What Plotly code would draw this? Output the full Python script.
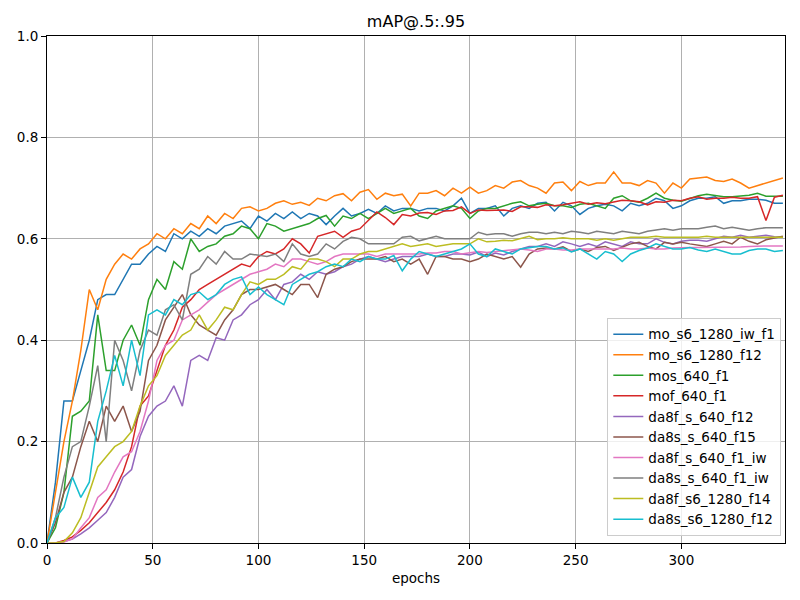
import plotly.graph_objects as go

epochs = list(range(0, 349, 4))

mo_s6_1280_iw_f1 = [0.0, 0.12, 0.28, 0.28, 0.34, 0.40, 0.48, 0.49, 0.49, 0.52, 0.55, 0.55, 0.57, 0.585, 0.575, 0.61,
    0.60, 0.615, 0.605, 0.62, 0.61, 0.625, 0.63, 0.635, 0.62, 0.645, 0.635, 0.65, 0.64, 0.653, 0.64, 0.65,
    0.645, 0.628, 0.645, 0.66, 0.645, 0.65, 0.658, 0.65, 0.665, 0.655, 0.66, 0.66, 0.655, 0.66, 0.66, 0.655,
    0.665, 0.68, 0.65, 0.66, 0.66, 0.665, 0.645, 0.66, 0.665, 0.66, 0.67, 0.672, 0.655, 0.672, 0.665, 0.648,
    0.66, 0.665, 0.668, 0.665, 0.655, 0.67, 0.665, 0.67, 0.68, 0.675, 0.66, 0.665, 0.675, 0.68, 0.68, 0.683,
    0.67, 0.675, 0.675, 0.678, 0.678, 0.676, 0.67, 0.67]

mo_s6_1280_f12 = [0.0, 0.10, 0.20, 0.28, 0.38, 0.50, 0.46, 0.52, 0.55, 0.57, 0.56, 0.58, 0.59, 0.61, 0.60, 0.62,
    0.61, 0.63, 0.62, 0.645, 0.63, 0.65, 0.64, 0.66, 0.663, 0.655, 0.66, 0.67, 0.675, 0.668, 0.672, 0.666,
    0.68, 0.675, 0.685, 0.689, 0.675, 0.692, 0.697, 0.678, 0.69, 0.685, 0.688, 0.665, 0.69, 0.69, 0.695, 0.685,
    0.70, 0.69, 0.702, 0.69, 0.695, 0.705, 0.70, 0.712, 0.715, 0.705, 0.70, 0.69, 0.71, 0.712, 0.695, 0.713,
    0.705, 0.71, 0.71, 0.732, 0.71, 0.71, 0.705, 0.715, 0.71, 0.69, 0.71, 0.70, 0.718, 0.72, 0.722, 0.715,
    0.713, 0.718, 0.71, 0.70, 0.705, 0.71, 0.715, 0.72]

mos_640_f1 = [0.0, 0.03, 0.10, 0.25, 0.26, 0.28, 0.45, 0.34, 0.34, 0.40, 0.43, 0.39, 0.48, 0.52, 0.50, 0.555,
    0.54, 0.60, 0.575, 0.585, 0.59, 0.605, 0.61, 0.625, 0.62, 0.60, 0.63, 0.625, 0.615, 0.62, 0.625, 0.63,
    0.64, 0.646, 0.625, 0.645, 0.64, 0.65, 0.64, 0.65, 0.66, 0.65, 0.655, 0.66, 0.645, 0.64, 0.655, 0.66,
    0.665, 0.66, 0.64, 0.655, 0.66, 0.66, 0.665, 0.67, 0.673, 0.665, 0.668, 0.670, 0.665, 0.665, 0.662, 0.668,
    0.67, 0.665, 0.66, 0.68, 0.685, 0.675, 0.672, 0.68, 0.69, 0.68, 0.676, 0.674, 0.68, 0.685, 0.688, 0.685,
    0.683, 0.683, 0.684, 0.686, 0.69, 0.684, 0.684, 0.684]

mof_640_f1 = [0.0, 0.0, 0.005, 0.012, 0.025, 0.04, 0.06, 0.08, 0.105, 0.14, 0.19, 0.27, 0.29, 0.34, 0.39, 0.42,
    0.465, 0.48, 0.50, 0.51, 0.52, 0.53, 0.54, 0.55, 0.545, 0.565, 0.575, 0.57, 0.58, 0.60, 0.59, 0.572,
    0.605, 0.61, 0.615, 0.603, 0.615, 0.62, 0.636, 0.653, 0.642, 0.628, 0.648, 0.645, 0.651, 0.652, 0.648, 0.655,
    0.656, 0.663, 0.65, 0.657, 0.656, 0.657, 0.657, 0.654, 0.663, 0.663, 0.662, 0.667, 0.665, 0.667, 0.67, 0.673,
    0.668, 0.671, 0.669, 0.672, 0.676, 0.675, 0.673, 0.667, 0.673, 0.672, 0.676, 0.675, 0.68, 0.683, 0.678, 0.68,
    0.68, 0.682, 0.68, 0.68, 0.683, 0.636, 0.682, 0.686]

da8f_s_640_f12 = [0.0, 0.0, 0.003, 0.008, 0.018, 0.03, 0.045, 0.06, 0.09, 0.13, 0.145, 0.21, 0.25, 0.27, 0.28, 0.31,
    0.27, 0.36, 0.37, 0.36, 0.405, 0.40, 0.44, 0.45, 0.47, 0.48, 0.50, 0.48, 0.51, 0.515, 0.53, 0.52,
    0.535, 0.53, 0.535, 0.545, 0.55, 0.56, 0.565, 0.56, 0.555, 0.56, 0.565, 0.565, 0.565, 0.57, 0.565, 0.565,
    0.57, 0.57, 0.568, 0.574, 0.565, 0.572, 0.568, 0.575, 0.58, 0.585, 0.585, 0.59, 0.585, 0.594, 0.59, 0.585,
    0.59, 0.585, 0.594, 0.59, 0.585, 0.594, 0.59, 0.59, 0.60, 0.593, 0.59, 0.595, 0.597, 0.597, 0.595, 0.60,
    0.605, 0.603, 0.607, 0.603, 0.605, 0.607, 0.604, 0.603]

da8s_s_640_f15 = [0.0, 0.04, 0.10, 0.13, 0.19, 0.24, 0.20, 0.27, 0.24, 0.27, 0.22, 0.26, 0.36, 0.39, 0.44, 0.465,
    0.49, 0.45, 0.43, 0.42, 0.41, 0.44, 0.46, 0.49, 0.50, 0.50, 0.505, 0.51, 0.50, 0.49, 0.51, 0.51,
    0.484, 0.53, 0.54, 0.545, 0.555, 0.56, 0.56, 0.56, 0.565, 0.555, 0.56, 0.55, 0.56, 0.53, 0.565, 0.565,
    0.56, 0.56, 0.555, 0.56, 0.57, 0.565, 0.56, 0.565, 0.544, 0.57, 0.58, 0.582, 0.58, 0.584, 0.575, 0.58,
    0.575, 0.583, 0.585, 0.577, 0.583, 0.59, 0.593, 0.585, 0.58, 0.593, 0.59, 0.593, 0.59, 0.588, 0.585, 0.59,
    0.595, 0.59, 0.603, 0.595, 0.59, 0.598, 0.602, 0.605]

da8f_s_640_f1_iw = [0.0, 0.0, 0.002, 0.008, 0.03, 0.05, 0.09, 0.105, 0.14, 0.17, 0.18, 0.22, 0.28, 0.36, 0.39, 0.40,
    0.44, 0.45, 0.46, 0.475, 0.49, 0.50, 0.51, 0.52, 0.53, 0.535, 0.54, 0.55, 0.545, 0.56, 0.56, 0.555,
    0.55, 0.555, 0.565, 0.57, 0.57, 0.57, 0.57, 0.565, 0.57, 0.57, 0.57, 0.57, 0.57, 0.572, 0.572, 0.575,
    0.575, 0.57, 0.572, 0.575, 0.573, 0.575, 0.577, 0.578, 0.58, 0.578, 0.575, 0.58, 0.58, 0.578, 0.578, 0.58,
    0.58, 0.58, 0.58, 0.58, 0.582, 0.58, 0.58, 0.582, 0.58, 0.58, 0.582, 0.583, 0.583, 0.583, 0.583, 0.583,
    0.583, 0.584, 0.584, 0.585, 0.586, 0.586, 0.586, 0.586]

da8s_s_640_f1_iw = [0.0, 0.05, 0.13, 0.19, 0.20, 0.27, 0.35, 0.20, 0.40, 0.36, 0.30, 0.38, 0.42, 0.41, 0.46, 0.47,
    0.44, 0.53, 0.54, 0.565, 0.55, 0.575, 0.56, 0.56, 0.57, 0.567, 0.565, 0.57, 0.555, 0.59, 0.57, 0.565,
    0.57, 0.59, 0.58, 0.595, 0.603, 0.60, 0.59, 0.59, 0.59, 0.59, 0.603, 0.605, 0.596, 0.60, 0.605, 0.60,
    0.60, 0.60, 0.60, 0.613, 0.608, 0.61, 0.61, 0.605, 0.61, 0.613, 0.613, 0.61, 0.613, 0.61, 0.615, 0.613,
    0.61, 0.615, 0.613, 0.61, 0.615, 0.613, 0.61, 0.615, 0.617, 0.62, 0.617, 0.62, 0.62, 0.62, 0.623, 0.625,
    0.62, 0.623, 0.62, 0.617, 0.62, 0.622, 0.622, 0.622]

da8f_s6_1280_f14 = [0.0, 0.0, 0.003, 0.02, 0.05, 0.10, 0.15, 0.17, 0.19, 0.20, 0.22, 0.27, 0.31, 0.33, 0.37, 0.39,
    0.41, 0.42, 0.45, 0.42, 0.44, 0.465, 0.46, 0.49, 0.515, 0.51, 0.52, 0.52, 0.53, 0.545, 0.54, 0.56,
    0.56, 0.555, 0.545, 0.56, 0.56, 0.57, 0.575, 0.575, 0.58, 0.585, 0.59, 0.585, 0.588, 0.59, 0.585, 0.588,
    0.59, 0.59, 0.59, 0.60, 0.594, 0.595, 0.597, 0.596, 0.60, 0.605, 0.598, 0.60, 0.60, 0.602, 0.60, 0.60,
    0.60, 0.597, 0.60, 0.597, 0.60, 0.603, 0.603, 0.603, 0.605, 0.603, 0.603, 0.603, 0.603, 0.603, 0.605, 0.603,
    0.603, 0.603, 0.604, 0.603, 0.603, 0.603, 0.603, 0.603]

da8s_s6_1280_f12 = [0.0, 0.05, 0.07, 0.13, 0.09, 0.12, 0.24, 0.30, 0.37, 0.31, 0.40, 0.33, 0.45, 0.46, 0.45, 0.48,
    0.47, 0.49, 0.495, 0.48, 0.49, 0.51, 0.52, 0.525, 0.49, 0.505, 0.49, 0.48, 0.47, 0.51, 0.52, 0.53,
    0.535, 0.545, 0.55, 0.545, 0.56, 0.555, 0.565, 0.56, 0.56, 0.567, 0.537, 0.56, 0.575, 0.57, 0.565, 0.57,
    0.575, 0.58, 0.59, 0.57, 0.565, 0.58, 0.575, 0.57, 0.58, 0.583, 0.585, 0.585, 0.58, 0.582, 0.574, 0.58,
    0.57, 0.56, 0.575, 0.57, 0.555, 0.57, 0.577, 0.582, 0.59, 0.585, 0.58, 0.58, 0.583, 0.578, 0.575, 0.58,
    0.575, 0.57, 0.57, 0.577, 0.58, 0.58, 0.575, 0.577]

series_names = ["mo_s6_1280_iw_f1", "mo_s6_1280_f12", "mos_640_f1", "mof_640_f1", "da8f_s_640_f12",
                "da8s_s_640_f15", "da8f_s_640_f1_iw", "da8s_s_640_f1_iw", "da8f_s6_1280_f14", "da8s_s6_1280_f12"]
series_values = [mo_s6_1280_iw_f1, mo_s6_1280_f12, mos_640_f1, mof_640_f1, da8f_s_640_f12,
                 da8s_s_640_f15, da8f_s_640_f1_iw, da8s_s_640_f1_iw, da8f_s6_1280_f14, da8s_s6_1280_f12]
colors = ["#1f77b4", "#ff7f0e", "#2ca02c", "#d62728", "#9467bd",
          "#8c564b", "#e377c2", "#7f7f7f", "#bcbd22", "#17becf"]

x_ticks = [0, 50, 100, 150, 200, 250, 300]
y_ticks = [0.0, 0.2, 0.4, 0.6, 0.8, 1.0]

W, H = 792, 592

fig = go.Figure()
for name, vals, col in zip(series_names, series_values, colors):
    fig.add_trace(go.Scatter(x=epochs, y=vals, mode="lines", name=name,
                             line=dict(color=col, width=1.5)))

axis_common = dict(showline=True, linecolor="black", linewidth=1, mirror=True,
                   ticks="outside", ticklen=5, tickcolor="black", tickwidth=1,
                   showgrid=True, gridcolor="#b0b0b0", gridwidth=1, zeroline=False,
                   automargin=False,
                   tickfont=dict(size=13.5, color="black"))

fig.update_layout(
    width=W, height=H,
    margin=dict(l=39, r=15, t=28, b=57),
    paper_bgcolor="white", plot_bgcolor="white",
    font=dict(family="DejaVu Sans", size=13.5, color="black"),
    title=dict(text="mAP@.5:.95", x=0.5, xref="paper", xanchor="center",
               y=1 - 13 / H, yanchor="middle", font=dict(size=16)),
    xaxis=dict(range=[0, 349], tickvals=x_ticks,
               title=dict(text="epochs", font=dict(size=13.5), standoff=6), **axis_common),
    yaxis=dict(range=[0, 1], tickvals=y_ticks, tickformat=".1f", **axis_common),
    legend=dict(x=0.995, y=0.014, xanchor="right", yanchor="bottom",
                bgcolor="rgba(255,255,255,0.8)", bordercolor="#cccccc", borderwidth=1,
                font=dict(size=13.5), tracegroupgap=0),
    showlegend=True,
)

fig.write_html("out.html")
